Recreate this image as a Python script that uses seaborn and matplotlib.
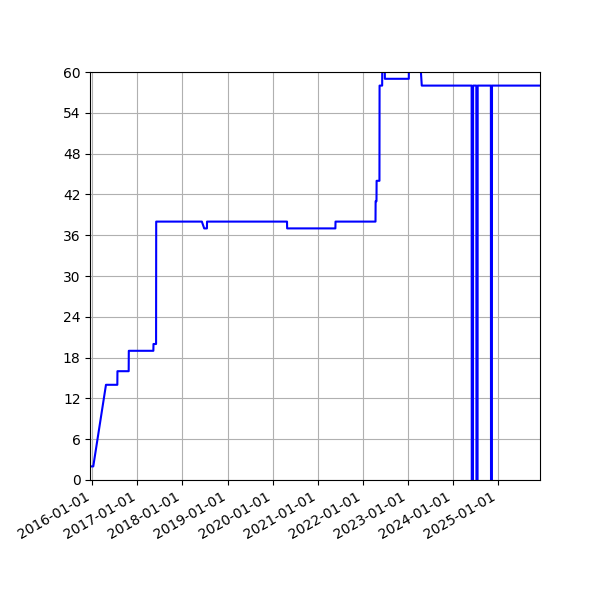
import pandas as pd
import matplotlib
matplotlib.use("Agg")
from matplotlib import pyplot as plt
import matplotlib.dates as mdates
import seaborn as sns

# points (one day apart where the value jumps)
dates = ["2015-12-16", "2016-01-09", "2016-04-21", "2016-07-22", "2016-07-23",
         "2016-10-22", "2016-10-23", "2017-05-10", "2017-05-11", "2017-06-01",
         "2017-06-02", "2018-06-07", "2018-06-26", "2018-07-18", "2018-07-19",
         "2020-04-27", "2020-04-28", "2021-05-24", "2021-05-25", "2022-04-14",
         "2022-04-15", "2022-04-22", "2022-04-23", "2022-05-16", "2022-05-17",
         "2022-06-07", "2022-06-08", "2022-06-28", "2022-06-29", "2023-01-09",
         "2023-01-10", "2023-04-10", "2023-04-24", "2024-06-01", "2024-06-02",
         "2024-06-12", "2024-06-13", "2024-07-09", "2024-07-10", "2024-07-19",
         "2024-07-20", "2024-11-04", "2024-11-05", "2024-11-12", "2024-11-13",
         "2025-12-07"]
values = [2, 2, 14, 14, 16,
          16, 19, 19, 20, 20,
          38, 38, 37, 37, 38,
          38, 37, 37, 38, 38,
          41, 41, 44, 44, 58,
          58, 62, 62, 59, 59,
          62, 62, 58, 58, 0,
          0, 58, 58, 0, 0,
          58, 58, 0, 0, 58,
          58]

df = pd.DataFrame({"date": pd.to_datetime(dates), "value": values})

fig, ax = plt.subplots(figsize=(6, 6), dpi=100)
sns.lineplot(data=df, x="date", y="value", color="blue", linewidth=1.5,
             estimator=None, sort=False, ax=ax)

ax.set_xlim(df["date"].min(), df["date"].max())
ax.set_ylim(0, 60)
ax.set_yticks(range(0, 61, 6))
ax.xaxis.set_major_locator(mdates.YearLocator())
ax.xaxis.set_major_formatter(mdates.DateFormatter("%Y-%m-%d"))
ax.grid(True, color="#b0b0b0", linewidth=0.8)
ax.set_xlabel("")
ax.set_ylabel("")
fig.autofmt_xdate()
fig.subplots_adjust(left=0.1505, right=0.9, top=0.88, bottom=0.2)

fig.savefig("out.png", dpi=100)
